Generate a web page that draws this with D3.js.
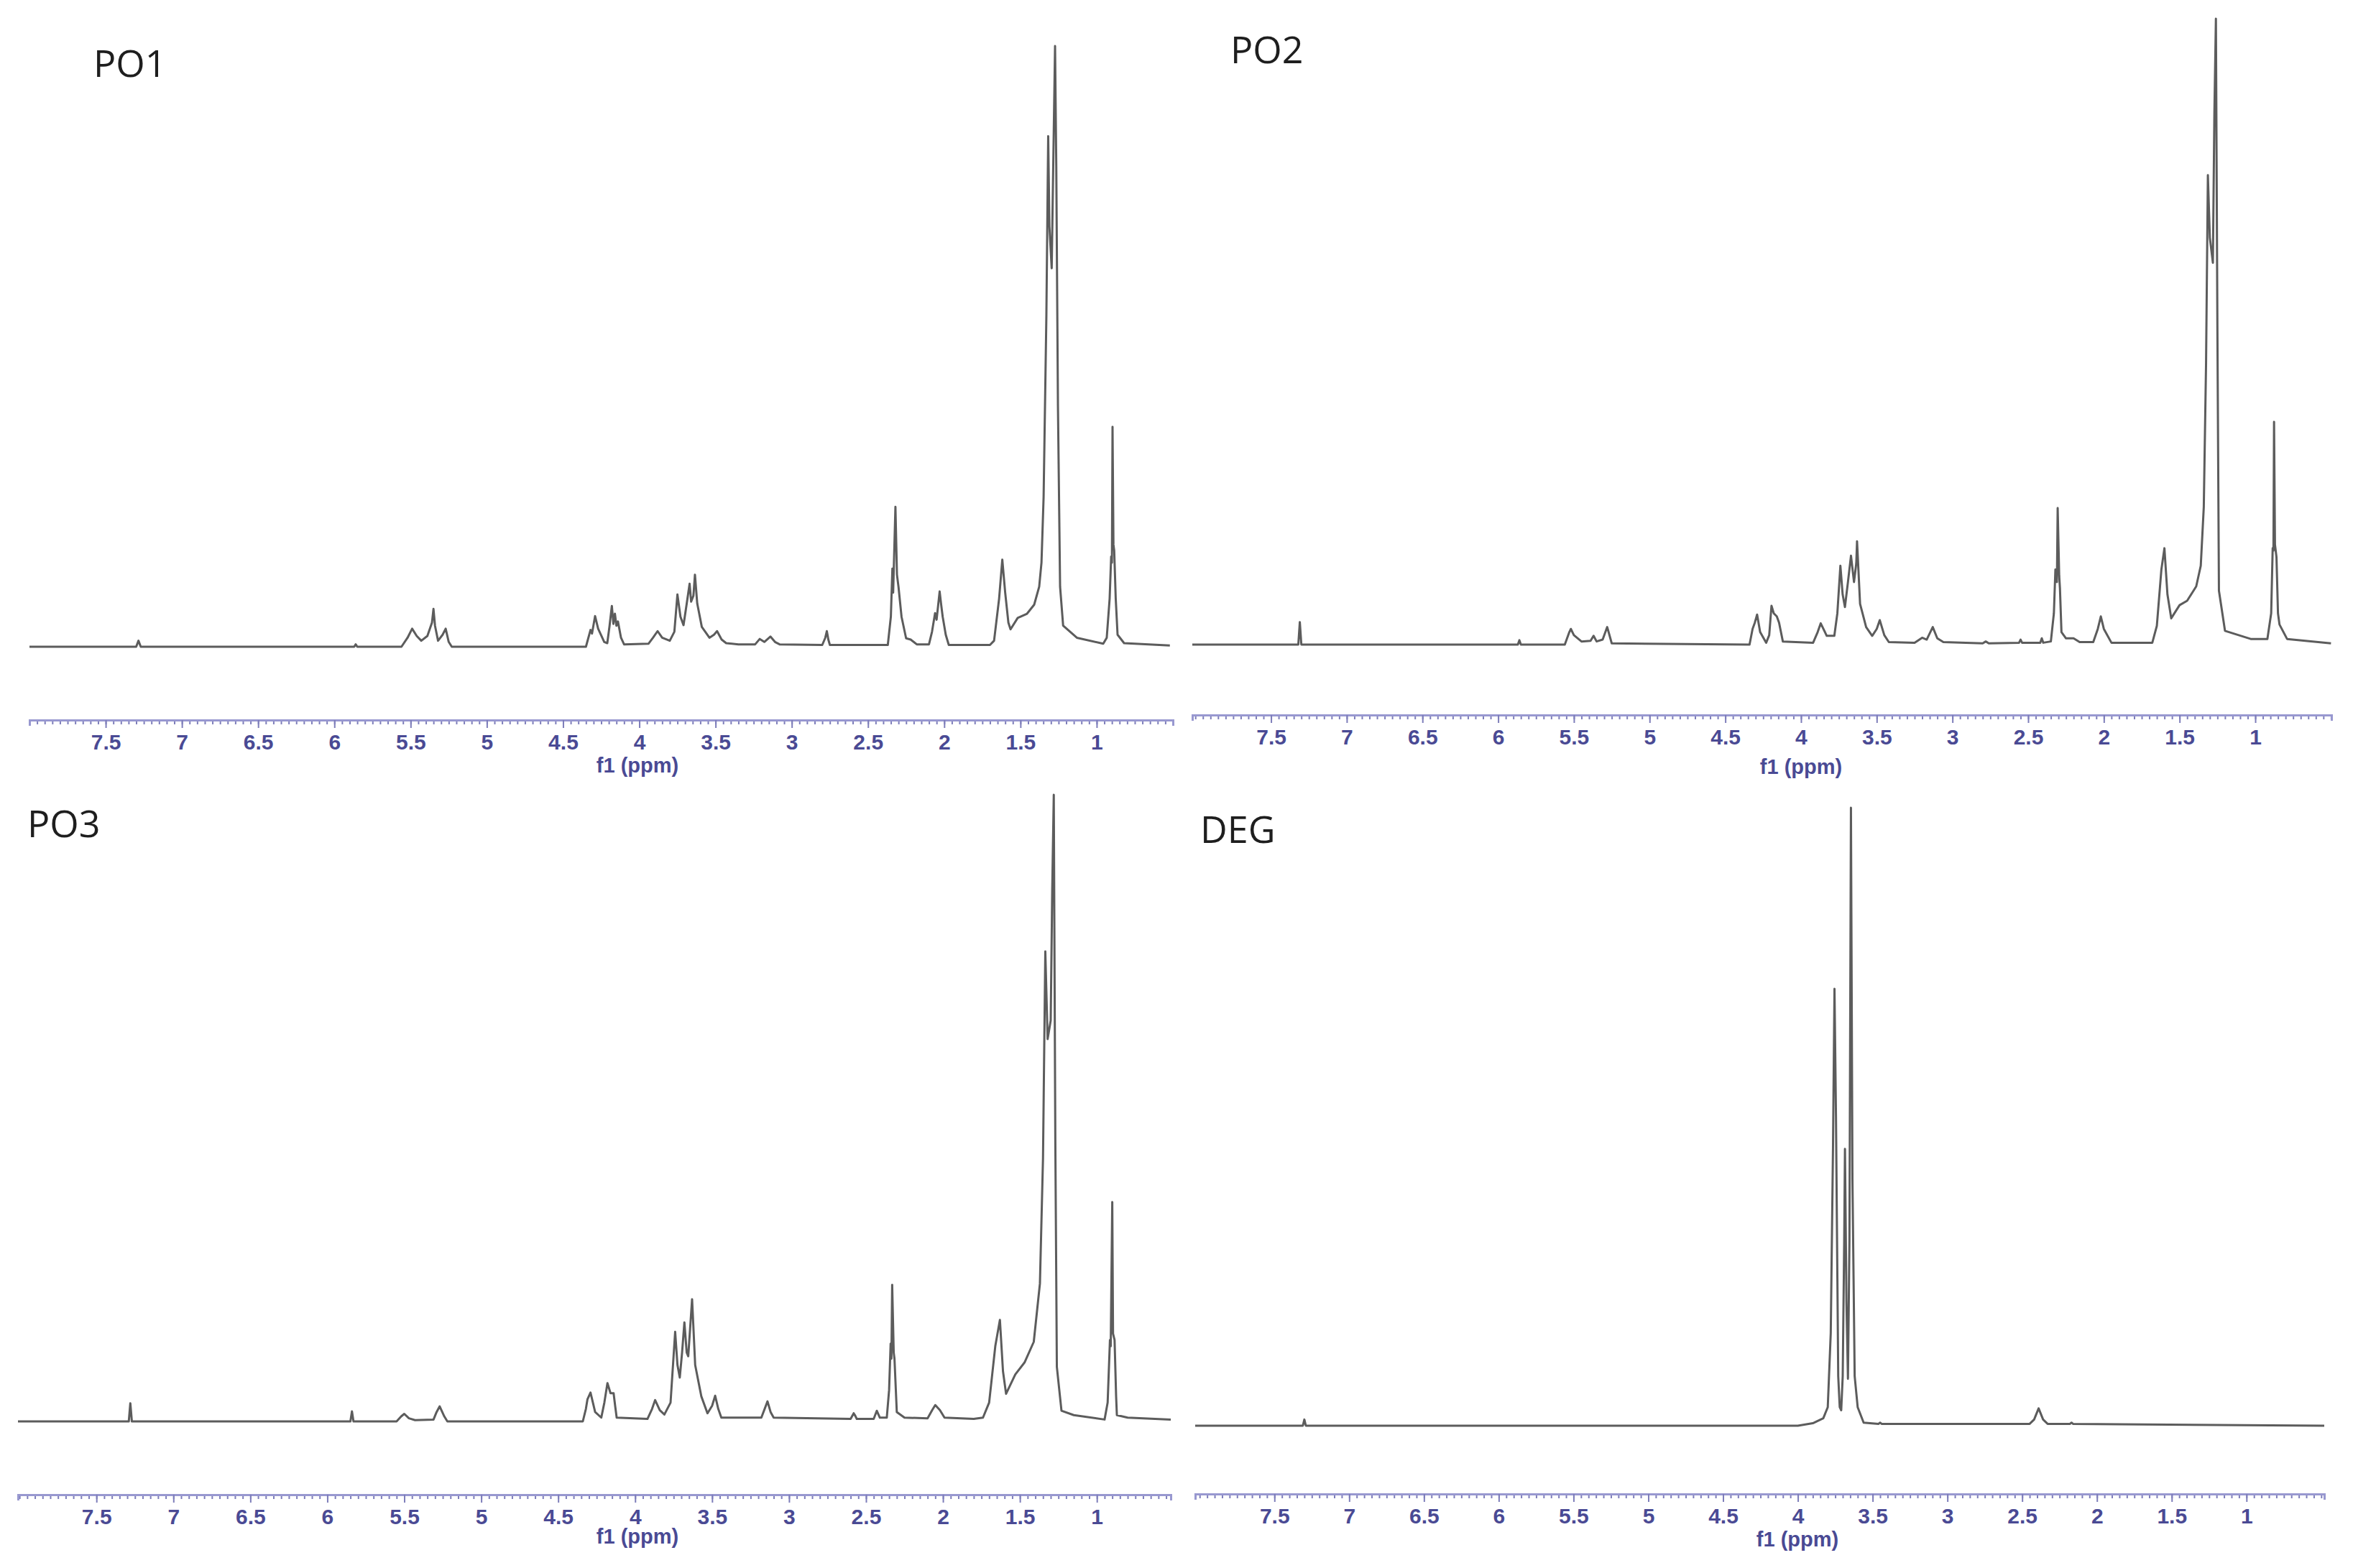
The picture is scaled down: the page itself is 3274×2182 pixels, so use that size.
<!DOCTYPE html>
<html>
<head>
<meta charset="utf-8">
<script src="https://cdn.jsdelivr.net/npm/d3@7"></script>
<style>
  body { margin: 0; background: #ffffff; }
  .ppm-axis text { font-family: "Liberation Sans", Arial, sans-serif; font-size: 30px; font-weight: bold; fill: #4a4a94; }
  .ppm-axis path.domain { stroke: #9898d0; stroke-width: 3px; }
  .ppm-axis line { stroke: #7e7eba; stroke-width: 2px; }
  .spectrum { fill: none; stroke: #5c5c5c; stroke-width: 3px; stroke-linejoin: round; }
  .panel-name { font-family: "Open Sans", sans-serif; font-size: 52px; fill: #1e1e1e; }
  .axis-title { font-family: "Liberation Sans", Arial, sans-serif; font-size: 29px; font-weight: bold; fill: #4a4a94; text-anchor: middle; }
</style>
</head>
<body>
<div id="chart"></div>
<script>

// #####################################################
// Data: [ppm, intensity in % of tallest line]
//
var tickLabels = [7.5, 7, 6.5, 6, 5.5, 5, 4.5, 4, 3.5, 3, 2.5, 2, 1.5, 1];
var panelNames = ["PO1", "PO2", "PO3", "DEG"];

var po1Trace = [
  [8.0,0],[7.30,0],[7.285,1.0],[7.27,0],[5.87,0],[5.86,0.4],[5.85,0],
  [5.56,0],[5.52,1.5],[5.49,3.0],[5.46,1.8],[5.43,1.0],[5.39,1.8],[5.36,4.0],[5.35,6.3],[5.34,3.5],
  [5.32,1.0],[5.29,2.0],[5.27,3.0],[5.25,0.8],[5.23,0],
  [4.35,0],[4.32,2.8],[4.31,2.2],[4.29,5.1],[4.27,3.0],[4.23,0.8],[4.21,0.6],
  [4.195,3.5],[4.18,6.8],[4.17,3.8],[4.16,5.5],[4.15,3.5],[4.14,4.2],[4.12,1.5],[4.10,0.4],
  [3.94,0.5],[3.91,1.5],[3.88,2.6],[3.85,1.5],[3.80,1.0],[3.77,2.5],[3.75,8.7],[3.73,5.0],[3.71,3.6],
  [3.69,7.0],[3.67,10.5],[3.66,7.5],[3.645,8.5],[3.635,12.0],[3.62,7.2],[3.59,3.3],[3.54,1.5],
  [3.51,2.0],[3.49,2.6],[3.46,1.2],[3.43,0.6],[3.35,0.4],
  [3.24,0.4],[3.21,1.3],[3.18,0.8],[3.14,1.7],[3.11,0.8],[3.08,0.4],
  [2.80,0.3],[2.78,1.5],[2.77,2.6],[2.76,1.2],[2.75,0.3],
  [2.37,0.3],[2.35,5],[2.34,13],[2.335,9],[2.32,23.3],[2.31,12],[2.30,10],[2.28,5],[2.25,1.4],[2.22,1.2],[2.18,0.4],
  [2.10,0.4],[2.08,2.5],[2.06,5.6],[2.05,4.5],[2.03,9.2],[2.02,7],[2.01,5],[1.99,2],[1.97,0.3],
  [1.70,0.3],[1.673,1],[1.64,8],[1.619,14.5],[1.60,9],[1.579,4],[1.565,2.9],[1.518,4.8],[1.457,5.5],
  [1.41,7],[1.377,10],[1.362,14],[1.348,25],[1.33,55],[1.318,85],[1.31,70],[1.295,63],[1.285,80],
  [1.273,100],[1.265,80],[1.254,40],[1.24,10],[1.22,3.5],[1.13,1.5],[0.957,0.5],[0.934,1.5],
  [0.915,8],[0.905,15],[0.90,14],[0.896,36.6],[0.89,17],[0.885,16],[0.875,8],[0.863,2],[0.82,0.6],[0.52,0.2]
];

var po2Trace = [
  [8.02,0],[7.32,0],[7.31,3.6],[7.30,0],[5.87,0],[5.86,0.7],[5.85,0],
  [5.56,0],[5.53,2.0],[5.52,2.5],[5.50,1.5],[5.45,0.5],[5.39,0.6],[5.37,1.4],[5.35,0.5],[5.31,0.8],[5.28,2.8],[5.25,0.2],
  [4.34,0],[4.32,2.5],[4.305,3.5],[4.29,4.8],[4.27,2.0],[4.23,0.3],[4.21,1.5],[4.195,6.2],[4.18,5],[4.16,4.5],
  [4.145,3.5],[4.12,0.5],[3.92,0.3],[3.89,2],[3.87,3.4],[3.83,1.4],[3.78,1.4],[3.76,5],[3.74,12.6],[3.725,8],
  [3.71,6],[3.69,10],[3.67,14.2],[3.65,10],[3.635,13],[3.63,16.5],[3.61,6.5],[3.57,2.8],[3.53,1.4],
  [3.50,2.5],[3.48,3.9],[3.45,1.5],[3.42,0.4],[3.25,0.3],[3.20,1.1],[3.17,0.8],[3.13,2.8],[3.10,1],[3.06,0.4],
  [2.80,0.2],[2.78,0.5],[2.76,0.2],[2.56,0.3],[2.55,0.8],[2.54,0.3],[2.42,0.3],[2.41,1.0],[2.40,0.3],
  [2.35,0.5],[2.33,5],[2.32,12],[2.31,10],[2.305,21.8],[2.295,11],[2.29,9],[2.28,2],[2.25,1],[2.20,1.0],[2.16,0.4],
  [2.07,0.4],[2.04,2.5],[2.02,4.5],[2.00,2.5],[1.95,0.3],[1.68,0.3],[1.65,3],[1.62,12],[1.60,15.4],[1.58,8],
  [1.555,4.2],[1.50,6.3],[1.45,7],[1.39,9.3],[1.36,12.6],[1.34,22],[1.325,45],[1.313,75],[1.30,65],[1.28,61],
  [1.27,85],[1.26,100],[1.25,50],[1.24,8.6],[1.20,2.2],[1.03,0.9],[0.92,0.9],[0.895,5],[0.885,15.4],[0.88,15],
  [0.876,35.6],[0.87,16],[0.86,14],[0.85,5],[0.84,3.2],[0.79,0.9],[0.50,0.2]
];

var po3Trace = [
  [8.01,0],[7.29,0],[7.28,2.9],[7.27,0],[5.85,0],[5.84,1.6],[5.83,0],[5.55,0],[5.52,0.8],[5.50,1.2],[5.47,0.5],
  [5.43,0.2],[5.31,0.3],[5.29,1.5],[5.27,2.4],[5.24,0.8],[5.22,0],
  [4.34,0],[4.32,2],[4.31,3.5],[4.29,4.6],[4.26,1.5],[4.22,0.6],[4.20,3],[4.18,6.1],[4.16,4.5],[4.14,4.5],
  [4.13,2.5],[4.12,0.6],[3.92,0.4],[3.89,2],[3.87,3.4],[3.84,1.8],[3.81,1.1],[3.77,3],[3.74,14.3],[3.725,9],
  [3.71,7],[3.695,11],[3.68,15.8],[3.665,11],[3.655,10.4],[3.63,19.5],[3.61,9],[3.57,4],[3.53,1.3],[3.50,2.5],
  [3.48,4.1],[3.46,2],[3.44,0.6],[3.18,0.6],[3.14,3.2],[3.12,1.5],[3.10,0.6],[2.60,0.4],[2.58,1.3],[2.57,0.9],
  [2.56,0.4],[2.45,0.4],[2.43,1.7],[2.41,0.6],[2.365,0.6],[2.35,5],[2.34,12.4],[2.335,10],[2.33,21.8],[2.32,11],
  [2.315,10],[2.30,1.5],[2.25,0.6],[2.10,0.5],[2.07,1.8],[2.05,2.6],[2.02,1.8],[1.99,0.6],[1.80,0.4],[1.74,0.6],
  [1.70,3],[1.66,12],[1.63,16.2],[1.61,8],[1.59,4.4],[1.53,7.5],[1.47,9.4],[1.41,12.7],[1.37,22],[1.35,42],
  [1.335,75],[1.32,61],[1.30,64],[1.29,85],[1.28,100],[1.27,45],[1.26,8.7],[1.23,1.7],[1.15,1.0],[0.95,0.3],
  [0.93,3],[0.915,13],[0.91,12],[0.90,35],[0.895,14],[0.885,13],[0.875,4],[0.87,1],[0.80,0.6],[0.52,0.3]
];

var degTrace = [
  [8.03,0],[7.31,0],[7.30,1.0],[7.29,0],[4.00,0],[3.90,0.4],[3.83,1.2],[3.80,3],[3.78,15],[3.765,45],
  [3.755,70.7],[3.745,50],[3.73,8],[3.72,3],[3.71,2.5],[3.70,8],[3.69,30],[3.685,44.8],[3.675,20],
  [3.665,7.6],[3.655,30],[3.645,100],[3.635,40],[3.62,8],[3.60,3],[3.56,0.5],[3.46,0.3],[3.45,0.5],[3.44,0.3],
  [2.45,0.3],[2.42,1],[2.39,2.8],[2.36,1],[2.33,0.3],[2.18,0.3],[2.17,0.5],[2.16,0.3],[0.48,0]
];

// #####################################################
// Panel placement on the page (pixels)
//
var panels = [
  {trace: po1Trace, ppm: [8.0, 0.5],   px: [41, 1632],   base: 900,  top: 64,   axisY: 1002,
   name: [130, 107],  title: [887, 1075]},
  {trace: po2Trace, ppm: [8.02, 0.497], px: [1659, 3244], base: 897,  top: 26,   axisY: 995,
   name: [1712, 88],  title: [2506, 1077]},
  {trace: po3Trace, ppm: [8.01, 0.52],  px: [25, 1629],   base: 1978, top: 1106, axisY: 2080,
   name: [38, 1165],  title: [887, 2148]},
  {trace: degTrace, ppm: [8.03, 0.48],  px: [1663, 3234], base: 1984, top: 1124, axisY: 2079,
   name: [1670, 1173], title: [2501, 2152]}
];

var svg = d3.select("#chart").append("svg")
    .attr("width", 3274)
    .attr("height", 2182)
    .style("background", "#ffffff");

// #####################################################
// Draw one spectrum with its ppm ruler
//
function plot_spectrum (p, i) {
  var x = d3.scaleLinear().domain(p.ppm).range(p.px);
  var y = d3.scaleLinear().domain([0, 100]).range([p.base, p.top]);

  var line = d3.line()
      .x(function(d) { return x(d[0]); })
      .y(function(d) { return y(d[1]); });

  svg.append("path")
      .datum(p.trace)
      .attr("class", "spectrum")
      .attr("d", line);

  // minor ticks every 0.05 ppm
  var lo = Math.min(p.ppm[0], p.ppm[1]), hi = Math.max(p.ppm[0], p.ppm[1]);
  var minor = d3.range(10, 161).map(function(k) { return k / 20; })
      .filter(function(v) { return v >= lo && v <= hi; });

  svg.append("g")
      .attr("class", "ppm-axis")
      .attr("transform", "translate(0," + p.axisY + ")")
      .call(d3.axisBottom(x).tickValues(minor).tickSize(6).tickSizeOuter(8).tickFormat(""));

  svg.append("g")
      .attr("class", "ppm-axis")
      .attr("transform", "translate(0," + p.axisY + ")")
      .call(d3.axisBottom(x).tickValues(tickLabels).tickSize(11).tickSizeOuter(8).tickPadding(9)
            .tickFormat(d3.format("~g")))
      .call(function(g) { g.attr("font-size", null).attr("font-family", null); });

  svg.append("text")
      .attr("class", "axis-title")
      .attr("x", p.title[0])
      .attr("y", p.title[1])
      .text("f1 (ppm)");

  svg.append("text")
      .attr("class", "panel-name")
      .attr("x", p.name[0])
      .attr("y", p.name[1])
      .text(panelNames[i]);
};

panels.forEach(plot_spectrum);

</script>
</body>
</html>
